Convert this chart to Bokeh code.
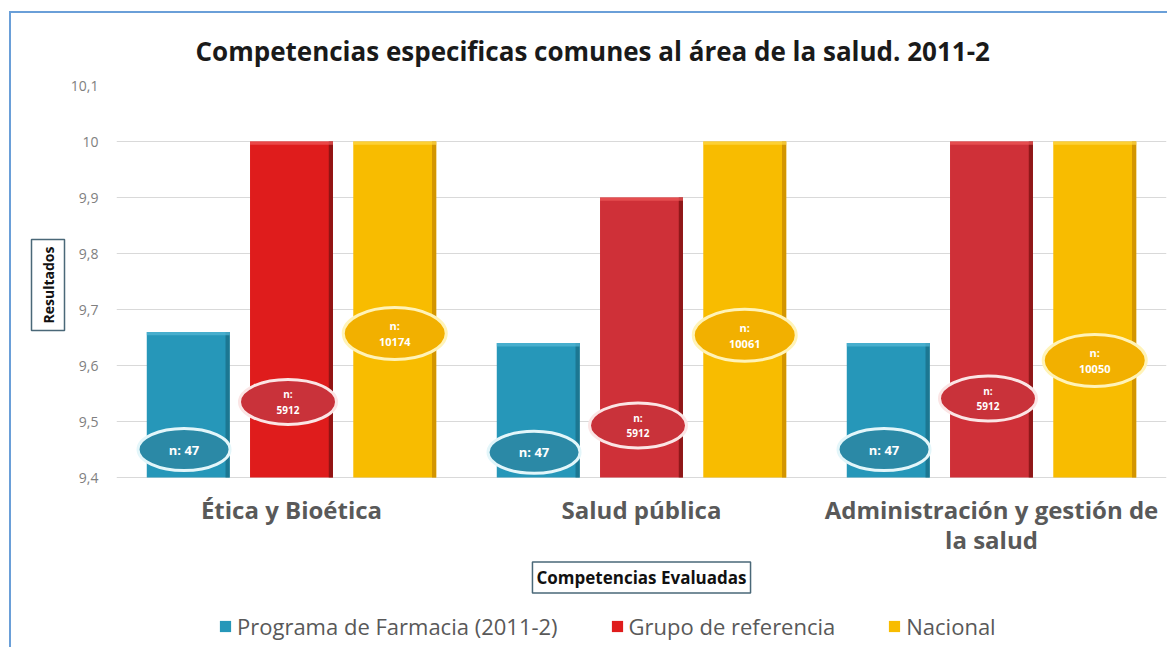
import math
from bokeh.plotting import figure
from bokeh.models import Range1d, FixedTicker, Title, Label, Legend, LegendItem, ColumnDataSource
from bokeh.core.properties import value
from bokeh.embed import file_html
from bokeh.resources import INLINE

# ---------------- data ----------------
categories = ["Ética y Bioética", "Salud pública", "Administración y gestión de\nla salud"]
series_names = ["Programa de Farmacia (2011-2)", "Grupo de referencia", "Nacional"]
programa = [9.66, 9.64, 9.64]
grupo = [10.0, 9.9, 10.0]
nacional = [10.0, 10.0, 10.0]
n_programa = ["n: 47", "n: 47", "n: 47"]
n_grupo = ["n:\n5912", "n:\n5912", "n:\n5912"]
n_nacional = ["n:\n10174", "n:\n10061", "n:\n10050"]
y_ticks = [9.4, 9.5, 9.6, 9.7, 9.8, 9.9, 10.0, 10.1]
y_tick_labels = ["9,4", "9,5", "9,6", "9,7", "9,8", "9,9", "10", "10,1"]
# where the n-labels sit (value axis)
label_y_programa = [9.45, 9.445, 9.45]
label_y_grupo = [9.535, 9.493, 9.541]
label_y_nacional = [9.657, 9.654, 9.609]

FONT = "Open Sans"
OFFSET = 0.295
BAR_W = 0.237
BASE = 9.4
PX = 0.1 / 56          # value units per pixel on the value axis
centers = [i + 0.5 for i in range(len(categories))]

# the frame reaches the bottom of the canvas so the category labels, the
# axis-title box and the legend can live inside it
p = figure(width=1158, height=636, x_range=Range1d(0, 3),
           y_range=Range1d(BASE - 172 * PX, 10.1),
           output_backend="svg", toolbar_location=None,
           min_border_left=105, min_border_right=3, min_border_top=72, min_border_bottom=0,
           title="Competencias especificas comunes al área de la salud. 2011-2")
p.styles = {"margin-left": "9px", "margin-top": "11px",
            "border-left": "2px solid #6a9fd8", "border-top": "2px solid #6a9fd8"}
p.outline_line_color = None
p.background_fill_color = "white"
p.border_fill_color = "white"

p.title.align = "left"
p.title.offset = 79
p.title.text_font = FONT
p.title.text_font_size = "26px"
p.title.text_font_style = "bold"
p.title.text_color = "#1a1a1a"
p.title.standoff = 33

# axes
p.yaxis.ticker = FixedTicker(ticks=y_ticks)
p.yaxis.major_label_overrides = {t: l for t, l in zip(y_ticks, y_tick_labels)}
p.yaxis.axis_line_color = None
p.yaxis.major_tick_line_color = None
p.yaxis.minor_tick_line_color = None
p.yaxis.major_tick_out = 0
p.yaxis.major_tick_in = 0
p.yaxis.major_label_standoff = 18
p.yaxis.major_label_text_font = FONT
p.yaxis.major_label_text_font_size = "14px"
p.yaxis.major_label_text_color = "#808080"
p.xaxis.visible = False

p.xgrid.grid_line_color = None
p.ygrid.ticker = FixedTicker(ticks=y_ticks)
p.ygrid.grid_line_color = "#d9d9d9"
p.ygrid.grid_line_width = 1

# bars
series = [
    (programa, -OFFSET, ["#2697b9", "#2697b9", "#2697b9"], "#1a6f88", "#56b8d6"),
    (grupo, 0.0, ["#df1c1c", "#cf3038", "#cf3038"], "#7e1212", "#ee5a5a"),
    (nacional, OFFSET, ["#f8bc00", "#f8bc00", "#f8bc00"], "#c98b00", "#ffd94a"),
]
renderers = []
for vals, off, colors, dark, light in series:
    xs = [c + off for c in centers]
    src = ColumnDataSource(dict(x=xs, top=vals, color=colors))
    r = p.vbar(x="x", top="top", bottom=BASE, width=BAR_W, fill_color="color",
               line_color=None, source=src)
    renderers.append(r)
    # right-edge shading and top highlight for a bevelled look
    p.vbar(x=[x + BAR_W / 2 - 0.006 for x in xs], top=vals, bottom=BASE, width=0.012,
           fill_color=dark, fill_alpha=0.8, line_color=None)
    p.vbar(x=xs, top=vals, bottom=[v - 0.006 for v in vals], width=BAR_W,
           fill_color=light, fill_alpha=0.7, line_color=None)

# n-labels in ellipses
ell = [
    (-OFFSET - 0.012, label_y_programa, n_programa, "#2b89a6", "#e3f6fa", 92, 42, "13px"),
    (0.0 - 0.01, label_y_grupo, n_grupo, "#c9323a", "#fbe5e5", 97, 45, "10px"),
    (OFFSET, label_y_nacional, n_nacional, "#f2b000", "#fff3b8", 103, 52, "11px"),
]
for off, ys, texts, fill, line, w, h, fs in ell:
    xs = [c + off for c in centers]
    p.ellipse(x=xs, y=ys, width=w, height=h, width_units="screen", height_units="screen",
              fill_color=fill, line_color=line, line_width=3)
    p.text(x=xs, y=ys, text=texts, text_align="center", text_baseline="middle",
           text_font=value(FONT), text_font_size=fs, text_font_style="bold",
           text_color="white", text_line_height=1.1)

# category labels under the bars
p.text(x=centers, y=[BASE - 15 * PX] * len(centers), text=categories,
       text_align="center", text_baseline="top", text_font=value(FONT),
       text_font_size="24px", text_font_style="bold", text_color="#595959",
       text_line_height=0.92)

# axis title boxes
ytitle = Title(text="Resultados", align="right", offset=154, text_font=FONT,
               text_font_size="14px", text_font_style="bold", text_color="#111111",
               border_line_color="#4a6878", border_line_width=1.5,
               background_fill_color="white", padding=7, standoff=6)
p.add_layout(ytitle, "left")
p.add_layout(Label(x=1.5, y=BASE - 100 * PX, text="Competencias Evaluadas",
                   text_align="center", text_baseline="middle", text_font=FONT,
                   text_font_size="17px", text_font_style="bold", text_color="#111111",
                   border_line_color="#4a6878", border_line_width=1.5,
                   background_fill_color="white", padding=4))

# legend
items = [LegendItem(label=n, renderers=[r], index=0) for n, r in zip(series_names, renderers)]
legend = Legend(items=items, orientation="horizontal", location=(102, 8),
                label_text_font=FONT, label_text_font_size="22px", label_text_color="#595959",
                glyph_width=14, glyph_height=14, label_standoff=5, spacing=52,
                padding=0, margin=0, border_line_color=None, background_fill_alpha=0)
p.add_layout(legend, "center")

open("out.html", "w").write(file_html(p, INLINE))
